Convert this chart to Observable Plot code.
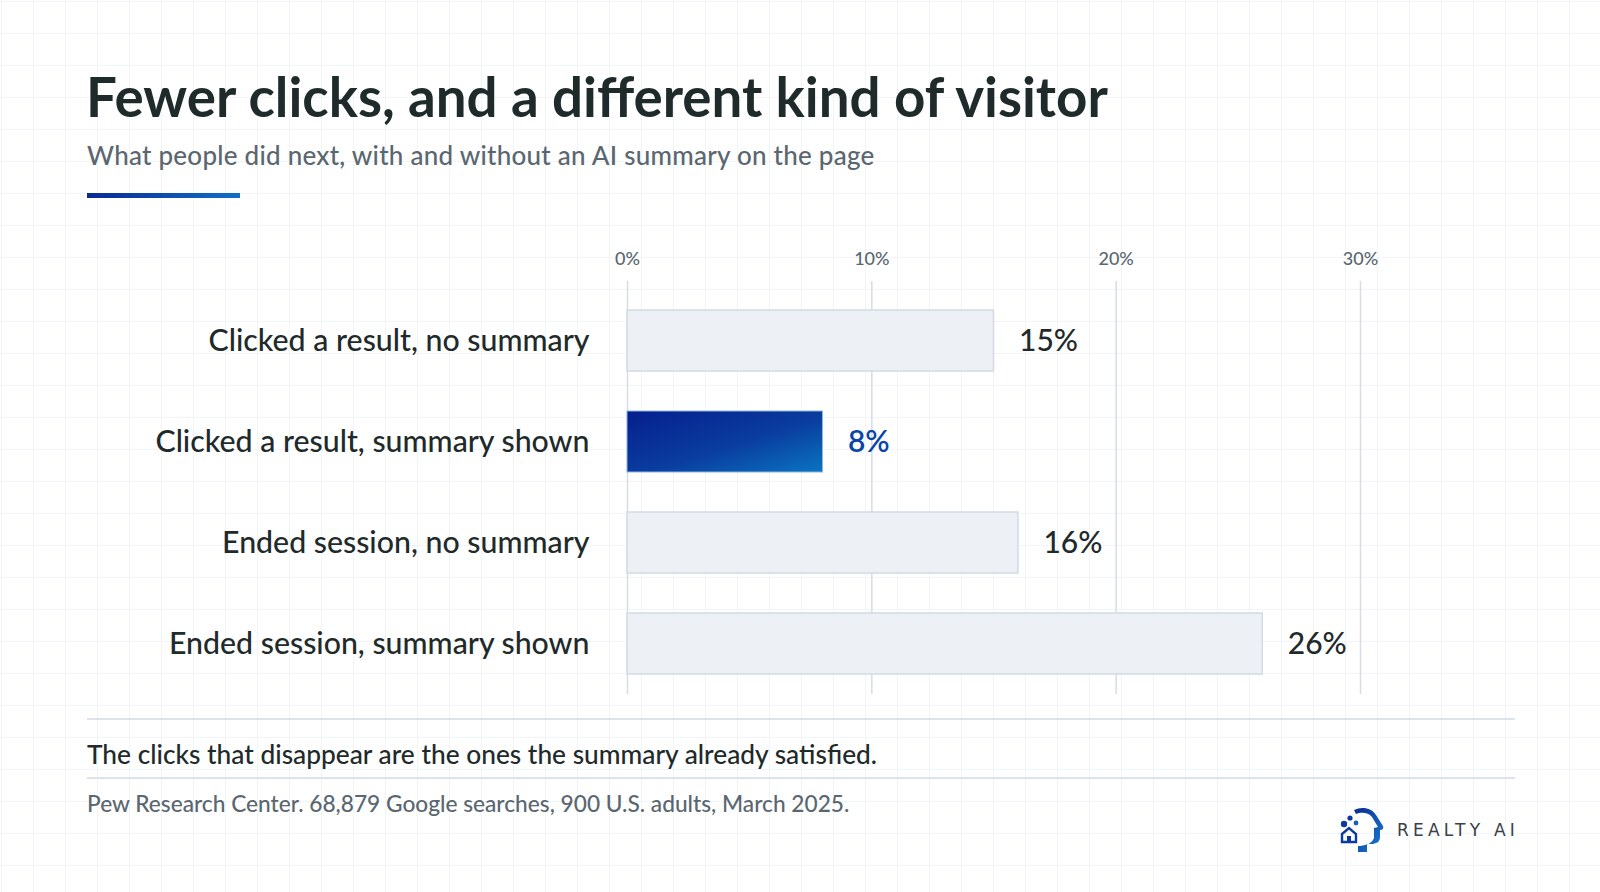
<!DOCTYPE html>
<html><head><meta charset="utf-8">
<script src="https://cdn.jsdelivr.net/npm/d3@7"></script>
<script src="https://cdn.jsdelivr.net/npm/@observablehq/plot@0.6"></script>
<style>
html,body{margin:0;padding:0;}
body{width:1600px;height:892px;overflow:hidden;background:#fff;font-family:Lato,"Noto Sans",sans-serif;}
#page{position:relative;width:1600px;height:892px;background-color:#fff;
 background-image:linear-gradient(to right,#f1f4f8 1px,transparent 1px),linear-gradient(to bottom,#f1f4f8 1px,transparent 1px);
 background-size:32px 32px;background-position:1px 1px;}
.abs{position:absolute;white-space:nowrap;line-height:1.2;}
#title{left:86px;top:64px;font-size:54.7px;font-weight:700;color:#1f2a2b;}
#subtitle{left:87px;top:140px;font-size:26px;font-weight:500;color:#5b6770;letter-spacing:0.25px;}
#accent{position:absolute;left:87px;top:193px;width:153px;height:5px;background:linear-gradient(90deg,#0a2a94,#1170c4);}
#chart{position:absolute;left:0;top:220px;}
.rule{position:absolute;left:87px;width:1428px;height:2px;background:#dde3ec;}
#note{left:87px;top:739px;font-size:26.3px;font-weight:500;color:#1f2a2b;}
#source{left:87px;top:790px;font-size:22.7px;font-weight:500;color:#5b6770;}
#logo{position:absolute;left:1336px;top:806px;}
#logotext{left:1397px;top:820px;font-size:17px;font-weight:500;color:#3a4045;letter-spacing:4.2px;font-family:"DejaVu Sans",sans-serif;}
</style></head>
<body><div id="page">
<div class="abs" id="title">Fewer clicks, and a different kind of visitor</div>
<div class="abs" id="subtitle">What people did next, with and without an AI summary on the page</div>
<div id="accent"></div>
<div id="chart"></div>
<div class="rule" style="top:718px"></div>
<div class="abs" id="note">The clicks that disappear are the ones the summary already satisfied.</div>
<div class="rule" style="top:777px"></div>
<div class="abs" id="source">Pew Research Center. 68,879 Google searches, 900 U.S. adults, March 2025.</div>
<svg id="logo" width="54" height="50" viewBox="0 0 54 50">
 <defs><linearGradient id="lg" x1="0" y1="0" x2="1" y2="1"><stop offset="0" stop-color="#0a2a94"/><stop offset="1" stop-color="#1a7fd0"/></linearGradient></defs>
 <path d="M18 4 C26 0 36 2 40 9 L47 20 C48 23 46 24 44 24 L44 31 C44 36 40 38 35 38 L31 38 L31 46 L22 46 L22 40 C28 40 36 38 38 32 L38 22 L42 21 L36 11 C32 6 25 6 20 8 Z" fill="url(#lg)"/>
 <circle cx="8" cy="18" r="3.2" fill="#0a3aa0"/>
 <circle cx="14" cy="12" r="2.6" fill="#0a3aa0"/>
 <circle cx="20" cy="17" r="2.4" fill="#1560b8"/>
 <path d="M6 28 L13 22 L20 28 L20 36 L6 36 Z" fill="none" stroke="#0a3aa0" stroke-width="2.4"/>
 <rect x="11" y="30" width="4" height="6" fill="#0a3aa0"/>
</svg>
<div class="abs" id="logotext">REALTY AI</div>
</div>
<script>
const categories = [
  "Clicked a result, no summary",
  "Clicked a result, summary shown",
  "Ended session, no summary",
  "Ended session, summary shown"
];
const shares = [15, 8, 16, 26];
const valueLabels = ["15%", "8%", "16%", "26%"];
const xTicks = [0, 10, 20, 30];
const xTickLabels = ["0%", "10%", "20%", "30%"];
const highlighted = "Clicked a result, summary shown";

const rows = categories.map((c, i) => ({category: c, share: shares[i], label: valueLabels[i]}));
const plain = rows.filter(d => d.category !== highlighted);
const focus = rows.filter(d => d.category === highlighted);

const chart = Plot.plot({
  width: 1600,
  height: 490,
  marginTop: 61,
  marginBottom: 16,
  marginLeft: 627,
  marginRight: 240,
  style: {background: "transparent", fontFamily: "Lato, sans-serif", overflow: "visible"},
  x: {domain: [0, 30]},
  y: {domain: categories, paddingInner: 0.4, paddingOuter: 0.24, align: 0.58},
  marks: [
    Plot.gridX(xTicks, {stroke: "#d6dde7", strokeOpacity: 1, strokeWidth: 1.5}),
    Plot.axisX({anchor: "top", ticks: xTicks, tickFormat: d => xTickLabels[xTicks.indexOf(d)],
      tickSize: 0, tickPadding: 17, fontSize: 18, fontWeight: 500, color: "#5b6770", label: null}),
    Plot.axisY({anchor: "left", tickSize: 0, tickPadding: 38, fontSize: 30.3, fontWeight: 500, color: "#1f2a2b", label: null}),
    Plot.barX(plain, {y: "category", x: "share", fill: "#edf1f6", stroke: "#d2dae5", strokeWidth: 1.5}),
    Plot.barX(focus, {y: "category", x: "share", fill: "url(#hl)", stroke: "#8db5e0", strokeWidth: 1}),
    Plot.text(plain, {y: "category", x: "share", text: "label", dx: 25, textAnchor: "start", fontSize: 30, fontWeight: 500, fill: "#1f2a2b"}),
    Plot.text(focus, {y: "category", x: "share", text: "label", dx: 25, textAnchor: "start", fontSize: 30, fontWeight: 600, fill: "#0a45a8"})
  ]
});
const defs = d3.select(chart).insert("defs", ":first-child");
const g = defs.append("linearGradient").attr("id", "hl").attr("x1", 0).attr("y1", 0).attr("x2", 1).attr("y2", 1);
g.append("stop").attr("offset", 0).attr("stop-color", "#061f8e");
g.append("stop").attr("offset", 0.55).attr("stop-color", "#0a3d9f");
g.append("stop").attr("offset", 1).attr("stop-color", "#0a74c2");
document.getElementById("chart").appendChild(chart);
</script>
</body></html>
